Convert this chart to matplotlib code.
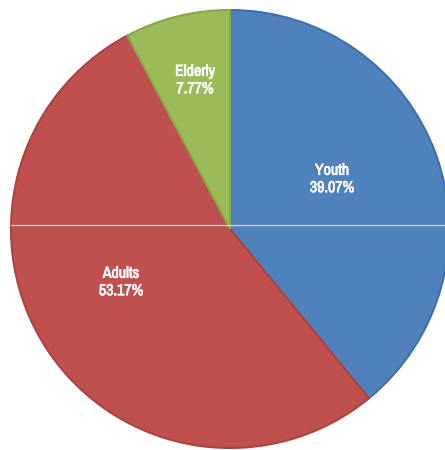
import matplotlib.pyplot as plt
import matplotlib.patheffects as pe

# age group shares (percent)
groups = ['Youth', 'Adults', 'Elderly']
shares = [39.07, 53.17, 7.77]
colors = ['#4F81BD', '#C0504D', '#9BBB59']
edges = ['#3F6FA8', '#A94440', '#88A64B']

# label anchors in pixels from top-left
label_xy = [(332, 179), (121, 282), (195, 80)]

fig = plt.figure(figsize=(4.45, 4.5), dpi=100)
ax = fig.add_axes([0, 0, 1, 1])

wedges, _ = ax.pie(shares, colors=colors, startangle=90, counterclock=False,
                   center=(230, 450 - 229), radius=219,
                   wedgeprops=dict(linewidth=1.5))
for w, ec in zip(wedges, edges):
    w.set_edgecolor(ec)

# thin light rule across the middle
ax.plot([11, 445], [450 - 225, 450 - 225], color='white', lw=0.9, alpha=0.7)

# narrow face has no bold here, so thicken it with a stroke
thick = [pe.withStroke(linewidth=0.5, foreground='white')]
for name, val, (x, y) in zip(groups, shares, label_xy):
    ax.text(x, 450 - y, f'{name}\n{val:.2f}%', ha='center', va='center',
            color='white', fontsize=11.5,
            family=['Archivo Narrow', 'DejaVu Sans'], fontstretch='condensed',
            linespacing=1.2, path_effects=thick)

ax.set_xlim(0, 445)
ax.set_ylim(0, 450)
ax.set_aspect('auto')
ax.axis('off')

fig.savefig('out.png', dpi=100)
